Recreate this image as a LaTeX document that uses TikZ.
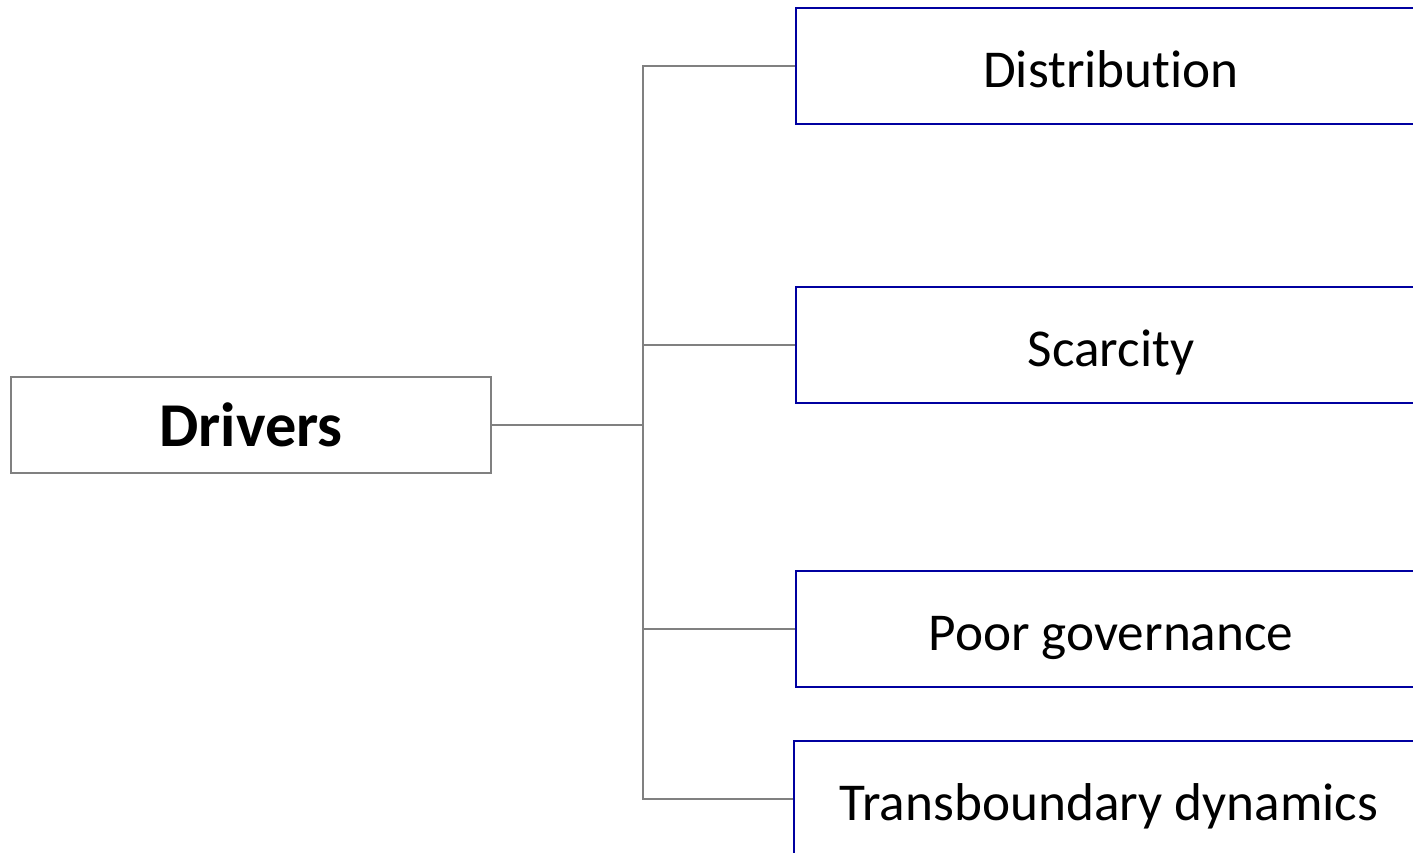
\documentclass[tikz,border=0pt]{standalone}
\usepackage{fontspec}
\setmainfont{Carlito}[Ligatures=NoCommon]
\usepackage{tikz}
\usepackage{xcolor}
\usetikzlibrary{calc}
\usetikzlibrary{positioning}

\definecolor{linegray}{RGB}{128,128,128}
\definecolor{boxblue}{RGB}{0,0,160}

\tikzset{
  rootbox/.style={draw=linegray, line width=1.1pt, minimum width=9.6cm, minimum height=1.92cm,
    font=\fontsize{35.5}{42}\selectfont\bfseries},
  driverbox/.style={draw=boxblue, line width=1.1pt, minimum width=12.6cm, minimum height=2.32cm,
    text height=28pt, text depth=4pt, font=\fontsize{30.3}{36}\selectfont},
  branch/.style={draw=linegray, line width=1.1pt}
}

\begin{document}
\begin{tikzpicture}[x=0.02cm, y=-0.02cm]
\useasboundingbox (0,0) rectangle (1413,852);
\clip (0,0) rectangle (1413,852);

\node[rootbox] (drivers) at (251,425) {Drivers};

\node[driverbox] (distribution) at (1111,66) {Distribution};
\node[driverbox] (scarcity) at (1111,345) {Scarcity};
\node[driverbox] (governance) at (1111,629) {Poor governance};
\node[driverbox] (transboundary) at (1109,799) {Transboundary dynamics};

\coordinate (trunk) at (643,425);
\draw[branch] (drivers.east) -- (trunk);
\draw[branch] (trunk) |- (distribution.west);
\draw[branch] (trunk) |- (scarcity.west);
\draw[branch] (trunk) |- (governance.west);
\draw[branch] (trunk) |- (transboundary.west);
\end{tikzpicture}
\end{document}
